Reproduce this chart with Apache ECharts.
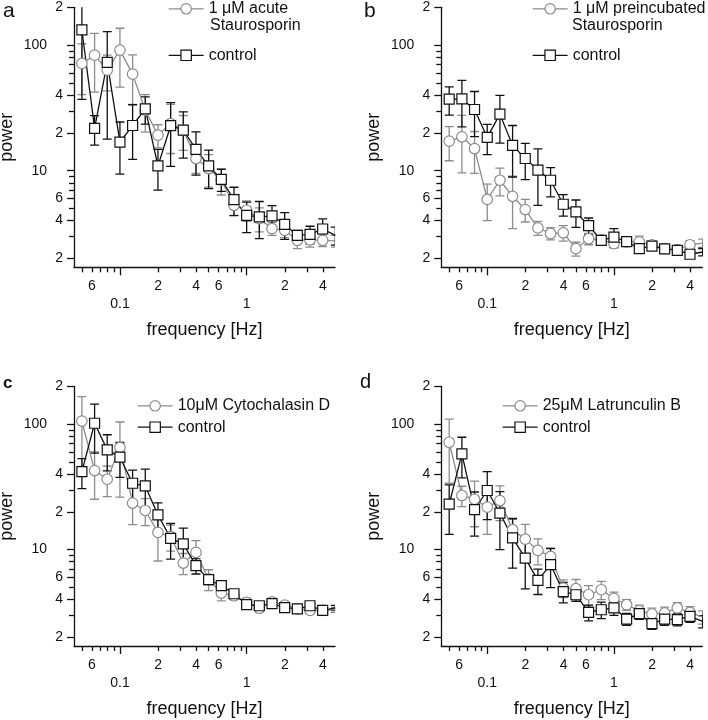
<!DOCTYPE html>
<html><head><meta charset="utf-8">
<script src="https://cdn.jsdelivr.net/npm/echarts@6/dist/echarts.min.js"></script>
<style>html,body{margin:0;padding:0;background:#fff}#c{width:708px;height:720px}</style>
</head><body><div id="c"></div>
<script>
// ---------- data ----------
const freq = [0.0501, 0.0631, 0.0794, 0.1, 0.1259, 0.1585, 0.1995, 0.2512, 0.3162, 0.3981, 0.5012, 0.631, 0.7943, 1.0, 1.259, 1.585, 1.995, 2.512, 3.162, 3.981, 5.012];

const ctrlA    = [132, 21.7, 72.8, 16.9, 22.9, 31.1, 10.9, 22.8, 21.0, 14.8, 10.9, 8.54, 5.88, 4.41, 4.28, 4.36, 3.74, 3.05, 3.11, 3.43, 3.05];
const ctrlAErr = [95, 5.7, 55, 7.5, 10.6, 7.6, 3.9, 12, 8.4, 5.6, 3.7, 1.7, 1.5, 1.2, 1.4, 0.9, 0.9, 0.3, 0.5, 0.7, 0.5];
const treatA    = [71.4, 83.2, 63.2, 91.2, 58.7, 30.3, 19.2, 23.7, 21.0, 12.5, 10.4, 8.4, 5.3, 4.84, 4.15, 3.45, 3.35, 2.79, 2.81, 2.79, 2.76];
const treatAErr = [31, 41, 20, 45, 25, 10, 4, 10, 6.5, 3, 3, 2, 0.9, 0.9, 0.9, 0.4, 0.42, 0.4, 0.35, 0.3, 0.3];

const ctrlB    = [37.1, 37.3, 30.7, 18.4, 28.2, 15.9, 12.5, 10.1, 8.39, 5.40, 4.69, 3.65, 2.79, 2.96, 2.72, 2.39, 2.51, 2.38, 2.32, 2.16, 2.25];
const ctrlBErr = [9.4, 15, 12, 5, 11.6, 7, 4, 4.8, 2.2, 1.05, 1.15, 0.55, 0.25, 0.5, 0.2, 0.15, 0.15, 0.15, 0.15, 0.15, 0.15];
const treatB    = [17.2, 18.6, 15.0, 5.9, 8.39, 6.25, 4.9, 3.5, 3.16, 3.2, 2.39, 2.87, 2.81, 2.62, 2.71, 2.71, 2.57, 2.39, 2.35, 2.57, 2.65];
const treatBErr = [5.2, 9, 5.5, 1.9, 2.1, 2.8, 1.0, 0.45, 0.35, 0.45, 0.3, 0.3, 0.2, 0.2, 0.2, 0.3, 0.2, 0.15, 0.15, 0.2, 0.2];

const ctrlC    = [41.9, 101.8, 62.4, 54.6, 33.8, 32.2, 18.9, 12.3, 11.1, 7.43, 5.75, 5.15, 4.44, 3.63, 3.56, 3.70, 3.44, 3.36, 3.56, 3.27, 3.43];
const ctrlCErr = [11.3, 43, 20, 17, 9.3, 11.6, 4.7, 3.9, 3.7, 1.05, 0.5, 0.5, 0.3, 0.3, 0.2, 0.2, 0.2, 0.15, 0.2, 0.15, 0.15];
const treatC    = [106, 42.7, 36.4, 65.2, 23.5, 20.5, 13.7, 12.7, 7.8, 9.49, 5.8, 4.50, 4.28, 3.79, 3.40, 3.83, 3.60, 3.36, 3.27, 3.27, 3.31];
const treatCErr = [60, 17.5, 10, 39, 7.7, 5, 5.6, 3, 1.5, 2.3, 1.1, 0.6, 0.3, 0.3, 0.2, 0.2, 0.2, 0.15, 0.2, 0.15, 0.15];

const ctrlD    = [23.0, 58.0, 20.8, 29.6, 19.5, 12.4, 8.55, 5.68, 7.57, 4.61, 4.36, 3.15, 3.31, 3.43, 2.79, 3.08, 2.56, 2.79, 2.76, 2.93, 2.67];
const ctrlDErr = [9.8, 20.7, 8, 12.3, 9.5, 5.3, 3.7, 1.3, 2.6, 0.85, 0.5, 0.45, 0.5, 0.45, 0.3, 0.3, 0.25, 0.3, 0.3, 0.3, 0.3];
const treatD    = [71.8, 27.0, 25.2, 21.8, 24.6, 14.4, 12.1, 9.85, 8.82, 4.93, 4.87, 4.36, 4.78, 4.08, 3.63, 3.25, 3.06, 3.12, 3.42, 3.15, 2.89];
const treatDErr = [38, 5, 10, 8.6, 7.6, 3, 3.8, 2.3, 1.5, 0.8, 0.9, 0.8, 0.8, 0.5, 0.35, 0.35, 0.35, 0.35, 0.35, 0.35, 0.35];

const panelLetters = ['a', 'b', 'c', 'd'];
const treatLines = [['1 μM acute', 'Staurosporin'], ['1 μM preincubated', 'Staurosporin'], ['10μM Cytochalasin D'], ['25μM Latrunculin B']];
const ctrlName = 'control';

// tick values and labels
const xMinorTicks = [0.05, 0.06, 0.07, 0.08, 0.09, 0.2, 0.3, 0.4, 0.5, 0.6, 0.7, 0.8, 0.9, 2, 3, 4];
const xMajorTicks = [0.1, 1];
const xRow1Vals = [0.06, 0.2, 0.4, 0.6, 2, 4];
const xRow1Text = ['6', '2', '4', '6', '2', '4'];
const xRow2Vals = [0.1, 1];
const xRow2Text = ['0.1', '1'];
const yMinorTicks = [3, 5, 7, 8, 9, 30, 50, 60, 70, 80, 90];
const yMajorTicks = [2, 4, 6, 10, 20, 40, 100, 200];
const yLabelVals = [2, 4, 6, 20, 40, 200];
const yLabelText = ['2', '4', '6', '2', '4', '2'];
const yDecadeVals = [10, 100];
const yDecadeText = ['10', '100'];

// ---------- layout / style ----------
const FONT = "'Liberation Sans', Arial, Helvetica, sans-serif";
const BLACK = '#111';
const GRAY = '#8c8c8c';
const X_MIN = 0.0434, X_MAX = 4.98, Y_MIN = 1.7, Y_MAX = 200;
const rects = [
  {left: 74, top: 7.3, width: 261, height: 260},
  {left: 441.3, top: 7.3, width: 261, height: 260},
  {left: 74, top: 386.5, width: 261, height: 259.5},
  {left: 441.3, top: 386.5, width: 261, height: 259.5}
];
const panels = [
  {ctrl: ctrlA, ctrlErr: ctrlAErr, treat: treatA, treatErr: treatAErr},
  {ctrl: ctrlB, ctrlErr: ctrlBErr, treat: treatB, treatErr: treatBErr},
  {ctrl: ctrlC, ctrlErr: ctrlCErr, treat: treatC, treatErr: treatCErr},
  {ctrl: ctrlD, ctrlErr: ctrlDErr, treat: treatD, treatErr: treatDErr}
];
const legendPos = [
  {left: 168, top1: 0.8, top2: 47.3, line2: [210, 26]},
  {left: 532, top1: 0.8, top2: 47.3, line2: [572, 26]},
  {left: 137, top1: 397.8, top2: 419.2},
  {left: 502, top1: 397.8, top2: 419.2}
];
const letterPos = [
  {x: 3, y: 11.4, size: 21, weight: 'normal'},
  {x: 364, y: 11.4, size: 21, weight: 'normal'},
  {x: 3, y: 383.7, size: 17, weight: 'bold'},
  {x: 360, y: 382.7, size: 20, weight: 'normal'}
];

function lookup(vals, texts) {
  return function (v) {
    let best = 0, bd = Infinity;
    for (let i = 0; i < vals.length; i++) {
      const d = Math.abs(Math.log(vals[i]) - Math.log(v));
      if (d < bd) { bd = d; best = i; }
    }
    return texts[best];
  };
}

function errRenderer(color) {
  return function (params, api) {
    const x = api.value(0), lo = api.value(1), hi = api.value(2);
    const a = api.coord([x, lo]), b = api.coord([x, hi]);
    const w = 4.5;
    const st = {stroke: color, lineWidth: 1.3};
    return {type: 'group', children: [
      {type: 'line', shape: {x1: a[0], y1: a[1], x2: b[0], y2: b[1]}, style: st},
      {type: 'line', shape: {x1: a[0] - w, y1: a[1], x2: a[0] + w, y2: a[1]}, style: st},
      {type: 'line', shape: {x1: b[0] - w, y1: b[1], x2: b[0] + w, y2: b[1]}, style: st}
    ]};
  };
}

const grid = [], xAxis = [], yAxis = [], series = [], legend = [], graphic = [];
const lineSt = {color: BLACK, width: 1.3};
const labelBase = {fontSize: 14, color: BLACK, fontFamily: FONT};

rects.forEach((r) => {
  grid.push(Object.assign({outerBoundsMode: 'none', containLabel: false}, r));
});
rects.forEach((r) => {
  grid.push(Object.assign({outerBoundsMode: 'none', containLabel: false}, r));
});

// main axes
for (let i = 0; i < 4; i++) {
  xAxis.push({
    type: 'log', logBase: 10, gridIndex: i, min: X_MIN, max: X_MAX,
    axisLine: {show: true, lineStyle: lineSt},
    axisTick: {show: true, customValues: xMinorTicks, length: 5, lineStyle: lineSt},
    axisLabel: Object.assign({customValues: xRow1Vals, formatter: lookup(xRow1Vals, xRow1Text), margin: 12}, labelBase),
    splitLine: {show: false}, minorTick: {show: false},
    name: 'frequency [Hz]', nameLocation: 'middle', nameGap: 54, nameMoveOverlap: false,
    nameTextStyle: {fontSize: 18, color: BLACK, fontFamily: FONT}
  });
  yAxis.push({
    type: 'log', logBase: 10, gridIndex: i, min: Y_MIN, max: Y_MAX,
    axisLine: {show: true, lineStyle: lineSt},
    axisTick: {show: true, customValues: yMinorTicks, length: 5, lineStyle: lineSt},
    axisLabel: Object.assign({customValues: yLabelVals, formatter: lookup(yLabelVals, yLabelText), margin: 11}, labelBase),
    splitLine: {show: false}, minorTick: {show: false},
    name: 'power', nameLocation: 'middle', nameGap: 58, nameMoveOverlap: false,
    nameTextStyle: {fontSize: 18, color: BLACK, fontFamily: FONT}
  });
}
// overlay axes (longer ticks, decade labels)
for (let i = 0; i < 4; i++) {
  xAxis.push({
    type: 'log', logBase: 10, gridIndex: 4 + i, min: X_MIN, max: X_MAX,
    axisLine: {show: false},
    axisTick: {show: true, customValues: xMajorTicks, length: 8, lineStyle: lineSt},
    axisLabel: Object.assign({customValues: xRow2Vals, formatter: lookup(xRow2Vals, xRow2Text), margin: 30}, labelBase),
    splitLine: {show: false}
  });
  yAxis.push({
    type: 'log', logBase: 10, gridIndex: 4 + i, min: Y_MIN, max: Y_MAX,
    axisLine: {show: false},
    axisTick: {show: true, customValues: yMajorTicks, length: 7, lineStyle: lineSt},
    axisLabel: Object.assign({customValues: yDecadeVals, formatter: lookup(yDecadeVals, yDecadeText), margin: 27}, labelBase),
    splitLine: {show: false}
  });
}

panels.forEach((p, i) => {
  const tName = treatLines[i].join(' ');
  series.push({
    type: 'custom', name: panelLetters[i] + '-treat-err', xAxisIndex: i, yAxisIndex: i, clip: true, silent: true,
    renderItem: errRenderer(GRAY),
    data: freq.map((f, k) => [f, p.treat[k] - p.treatErr[k], p.treat[k] + p.treatErr[k]])
  });
  series.push({
    type: 'line', name: tName, xAxisIndex: i, yAxisIndex: i, clip: true, silent: true,
    symbol: 'circle', symbolSize: 10.5, showSymbol: true, showAllSymbol: true,
    lineStyle: {color: GRAY, width: 1.3},
    itemStyle: {color: '#fff', borderColor: GRAY, borderWidth: 1.2},
    emphasis: {disabled: true},
    data: freq.map((f, k) => [f, p.treat[k]])
  });
  series.push({
    type: 'custom', name: panelLetters[i] + '-ctrl-err', xAxisIndex: i, yAxisIndex: i, clip: true, silent: true,
    renderItem: errRenderer(BLACK),
    data: freq.map((f, k) => [f, p.ctrl[k] - p.ctrlErr[k], p.ctrl[k] + p.ctrlErr[k]])
  });
  series.push({
    type: 'line', name: ctrlName, xAxisIndex: i, yAxisIndex: i, clip: true, silent: true,
    symbol: 'rect', symbolSize: 10, showSymbol: true, showAllSymbol: true,
    lineStyle: {color: BLACK, width: 1.3},
    itemStyle: {color: '#fff', borderColor: BLACK, borderWidth: 1.2},
    emphasis: {disabled: true},
    data: freq.map((f, k) => [f, p.ctrl[k]])
  });

  const lp = legendPos[i];
  const legBase = {
    orient: 'vertical', left: lp.left, padding: 0, itemWidth: 35, itemHeight: 13, selectedMode: false,
    lineStyle: {width: 1.3},
    itemStyle: {borderWidth: 1.2},
    textStyle: {fontSize: 16, lineHeight: 13, color: BLACK, fontFamily: FONT}
  };
  legend.push(Object.assign({}, legBase, {top: lp.top1, data: [tName], formatter: () => treatLines[i][0]}));
  legend.push(Object.assign({}, legBase, {top: lp.top2, data: [ctrlName]}));
  if (treatLines[i].length > 1) {
    graphic.push({type: 'text', x: lp.line2[0], y: lp.line2[1], silent: true,
      style: {text: treatLines[i][1], fontSize: 16, fontFamily: FONT, fill: BLACK, verticalAlign: 'middle', align: 'left'}});
  }
  const L = letterPos[i];
  graphic.push({type: 'text', x: L.x, y: L.y, silent: true,
    style: {text: panelLetters[i], fontSize: L.size, fontWeight: L.weight, fontFamily: FONT, fill: BLACK, verticalAlign: 'middle', align: 'left'}});
});

const chart = echarts.init(document.getElementById('c'), null, {renderer: 'canvas'});
chart.setOption({
  animation: false,
  backgroundColor: '#fff',
  textStyle: {fontFamily: FONT},
  grid, xAxis, yAxis, series, legend, graphic
});
</script>
</body></html>
